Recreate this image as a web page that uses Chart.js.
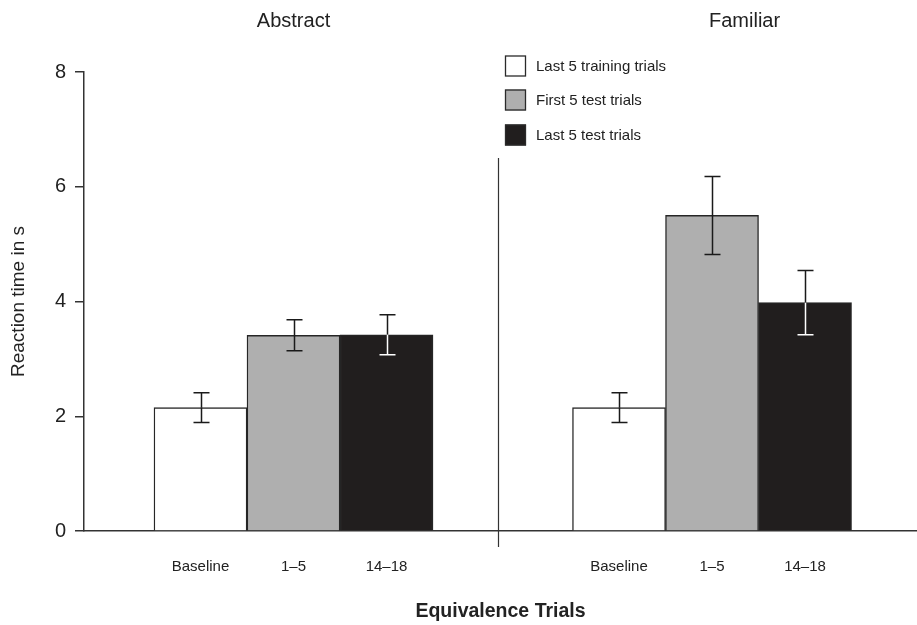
<!DOCTYPE html>
<html><head><meta charset="utf-8">
<script src="https://cdn.jsdelivr.net/npm/chart.js@4/dist/chart.umd.min.js"></script>
<style>html,body{margin:0;padding:0;background:#fff}</style>
</head><body>
<canvas id="c" width="917" height="625"></canvas>
<script>
// ---- data ----
const panels = ['Abstract', 'Familiar'];
const categories = ['Baseline', '1–5', '14–18'];
const seriesNames = ['Last 5 training trials', 'First 5 test trials', 'Last 5 test trials'];
const lastTraining = [2.15, 2.15];
const firstTest = [3.41, 5.50];
const lastTest = [3.42, 3.98];
const lastTrainingErr = [0.26, 0.26];
const firstTestErr = [0.27, 0.68];
const lastTestErr = [0.35, 0.56];
const yTicks = [0, 2, 4, 6, 8];

// ---- layout / style ----
const FONT = "'Liberation Sans', Arial, sans-serif";
const INK = '#222';
const PANEL_STEP = 4.5;
const fills = ['#ffffff', '#afafaf', '#211e1e'];
const darkFill = [false, false, true];
const seriesValues = [lastTraining, firstTest, lastTest];
const seriesErrs = [lastTrainingErr, firstTestErr, lastTestErr];
const pos = (p, s) => p * PANEL_STEP + s;

const tickPositions = [];
const tickLabelMap = {};
panels.forEach((_, p) => categories.forEach((c, s) => {
  tickPositions.push(pos(p, s));
  tickLabelMap[pos(p, s)] = c;
}));

const datasets = seriesNames.map((name, s) => ({
  label: name,
  data: panels.map((_, p) => ({ x: pos(p, s), y: seriesValues[s][p] })),
  backgroundColor: fills[s],
  borderColor: '#262626',
  borderWidth: 1.4,
  borderSkipped: 'start',
  barPercentage: 1,
  categoryPercentage: 1,
  grouped: false
}));

const overlay = {
  id: 'overlay',
  afterDatasetsDraw(chart) {
    const ctx = chart.ctx;
    const xs = chart.scales.x, ys = chart.scales.y;
    ctx.save();
    // error bars
    ctx.lineWidth = 1.5;
    seriesNames.forEach((_, s) => {
      const meta = chart.getDatasetMeta(s);
      panels.forEach((_, p) => {
        const v = seriesValues[s][p], e = seriesErrs[s][p];
        const x = Math.round(meta.data[p].x) + 0.5;
        const yt = ys.getPixelForValue(v + e);
        const yv = ys.getPixelForValue(v);
        const yb = ys.getPixelForValue(v - e);
        const cap = 8;
        ctx.strokeStyle = '#1a1a1a';
        ctx.beginPath();
        ctx.moveTo(x, yt); ctx.lineTo(x, yv);
        ctx.moveTo(x - cap, yt); ctx.lineTo(x + cap, yt);
        ctx.stroke();
        ctx.strokeStyle = darkFill[s] ? '#ffffff' : '#1a1a1a';
        ctx.beginPath();
        ctx.moveTo(x, yv); ctx.lineTo(x, yb);
        ctx.moveTo(x - cap, yb); ctx.lineTo(x + cap, yb);
        ctx.stroke();
      });
    });
    // divider between panels
    const dx = Math.round(xs.getPixelForValue(3.2)) + 0.5;
    ctx.strokeStyle = '#333';
    ctx.lineWidth = 1.2;
    ctx.beginPath();
    ctx.moveTo(dx, ys.getPixelForValue(6.5));
    ctx.lineTo(dx, ys.getPixelForValue(0) + 16);
    ctx.stroke();
    // panel titles
    ctx.fillStyle = INK;
    ctx.font = "20px " + FONT;
    ctx.textAlign = 'center';
    ctx.textBaseline = 'middle';
    const titlePos = [1, 5.85];
    panels.forEach((t, p) => ctx.fillText(t, xs.getPixelForValue(titlePos[p]), 21));
    // legend
    const lx = 505, box = 21, rows = [66, 100, 135];
    ctx.textAlign = 'left';
    ctx.font = "15px " + FONT;
    seriesNames.forEach((n, s) => {
      ctx.fillStyle = fills[s];
      ctx.fillRect(lx, rows[s] - box / 2, box, box);
      ctx.strokeStyle = '#2a2a2a';
      ctx.lineWidth = 1.3;
      ctx.strokeRect(lx + 0.5, rows[s] - box / 2 + 0.5, box - 1, box - 1);
      ctx.fillStyle = INK;
      ctx.fillText(n, lx + box + 10, rows[s] + 1);
    });
    ctx.restore();
  }
};

new Chart(document.getElementById('c'), {
  type: 'bar',
  data: { datasets },
  options: {
    responsive: false,
    devicePixelRatio: 1,
    animation: false,
    layout: { padding: { top: 72, left: 0, right: 0, bottom: 0 } },
    plugins: { legend: { display: false }, tooltip: { enabled: false } },
    scales: {
      x: {
        type: 'linear',
        offset: false,
        min: -1.2527,
        max: 7.704,
        afterBuildTicks(scale) { scale.ticks = tickPositions.map(v => ({ value: v })); },
        afterFit(scale) { scale.height = 94; },
        grid: { display: false, drawTicks: false, offset: false },
        border: { display: true, color: '#333', width: 1.5 },
        ticks: {
          autoSkip: false, maxRotation: 0, padding: 27,
          color: INK, font: { family: FONT, size: 15 },
          callback: (v) => tickLabelMap[v] ?? ''
        },
        title: {
          display: true, text: 'Equivalence Trials', color: INK,
          font: { family: FONT, size: 19.5, weight: 'bold' },
          padding: { top: 0, bottom: 2 }
        }
      },
      y: {
        min: 0, max: 8,
        afterBuildTicks(scale) { scale.ticks = yTicks.map(v => ({ value: v })); },
        afterFit(scale) { scale.width = 84; },
        grid: { display: true, drawOnChartArea: false, drawTicks: true, tickLength: 9, color: '#333', lineWidth: 1.5 },
        border: { display: true, color: '#333', width: 1.5 },
        ticks: { color: INK, padding: 9, font: { family: FONT, size: 20 } },
        title: {
          display: true, text: 'Reaction time in s', color: INK,
          font: { family: FONT, size: 19 },
          padding: { top: 7, bottom: 0 }
        }
      }
    }
  },
  plugins: [overlay]
});
</script>
</body></html>
